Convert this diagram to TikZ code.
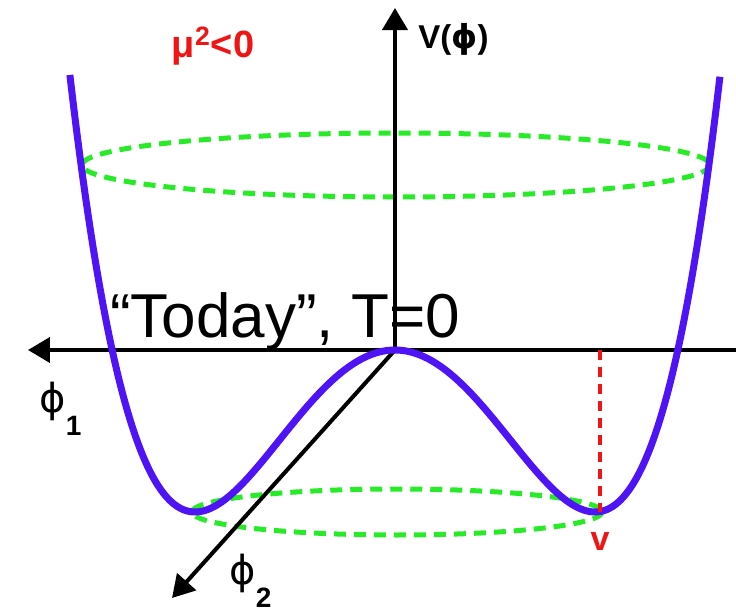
\documentclass[tikz,border=0pt]{standalone}
\usepackage{fontspec}
\setmainfont{Liberation Sans}
\newfontfamily\phifont{DejaVu Sans}
\usetikzlibrary{arrows.meta, positioning}
\usepackage{xcolor}
\definecolor{wellblue}{RGB}{78,20,245}
\definecolor{ringgreen}{RGB}{40,235,40}
\definecolor{vevred}{RGB}{240,20,20}
\newcommand{\fieldsym}{{\phifont ϕ}}
\newcommand{\fieldsub}[1]{\raisebox{-11.5pt}{\fontsize{14}{16}\selectfont\bfseries #1}}

\begin{document}
\begin{tikzpicture}[
    x=0.5pt, y=-0.5pt,
    axis/.style={line width=2pt, color=black, -{Triangle[length=11pt, width=12.5pt]}},
    potential/.style={line width=3.5pt, color=wellblue, line join=round},
    ring/.style={line width=2.5pt, color=ringgreen, dash pattern=on 6pt off 4pt},
    vevline/.style={line width=2pt, color=vevred, dash pattern=on 5pt off 3.5pt},
    fieldlbl/.style={inner sep=0pt, anchor=base west, font=\fontsize{20}{24}\selectfont}
]
\useasboundingbox (0,0) rectangle (736,611);
% axes
\coordinate (origin) at (395,350);
\coordinate (vtip) at (395,8);
\coordinate (rightend) at (736,350);
\coordinate (phi1tip) at (28,350);
\coordinate (phi2tip) at (172,598);
% rings of constant V
\draw[ring] (396,165) ellipse [x radius=314, y radius=32];
\draw[ring] (397,512) ellipse [x radius=205, y radius=23];
\draw[axis] (origin) -- (vtip);
\draw[axis] (rightend) -- (phi1tip);
\draw[axis] (origin) -- (phi2tip);
% double well
\draw[potential] plot[domain=-1.6256:1.6256, samples=201, smooth]
    ({395+200*\x}, {350-162*((\x*\x-1)*(\x*\x-1)-1)});
\coordinate (vevtop) at (600,350);
\coordinate (vevmin) at (600,512);
\draw[vevline] (vevtop) -- (vevmin);
% labels
\node[inner sep=0pt, anchor=west, font=\fontsize{16.5}{20}\selectfont\bfseries] (vlabel) at (418,39) {V(\fieldsym)};
\node[inner sep=0pt, text=vevred, font=\fontsize{19}{22}\selectfont\bfseries] (mulabel) at (213,46) {μ\textsuperscript{2}<0};
\node[fieldlbl] (phi1) at (39,412) {\fieldsym\fieldsub{1}};
\node[fieldlbl] (phi2) at (229,584) {\fieldsym\fieldsub{2}};
\node[inner sep=0pt, text=vevred, font=\fontsize{17}{20}\selectfont\bfseries, below=10pt of vevmin] (vlbl) {v};
\node[inner sep=0pt, anchor=base, font=\fontsize{31}{36}\selectfont] (today) at (285,337) {“Today”, T=0};
\end{tikzpicture}
\end{document}
